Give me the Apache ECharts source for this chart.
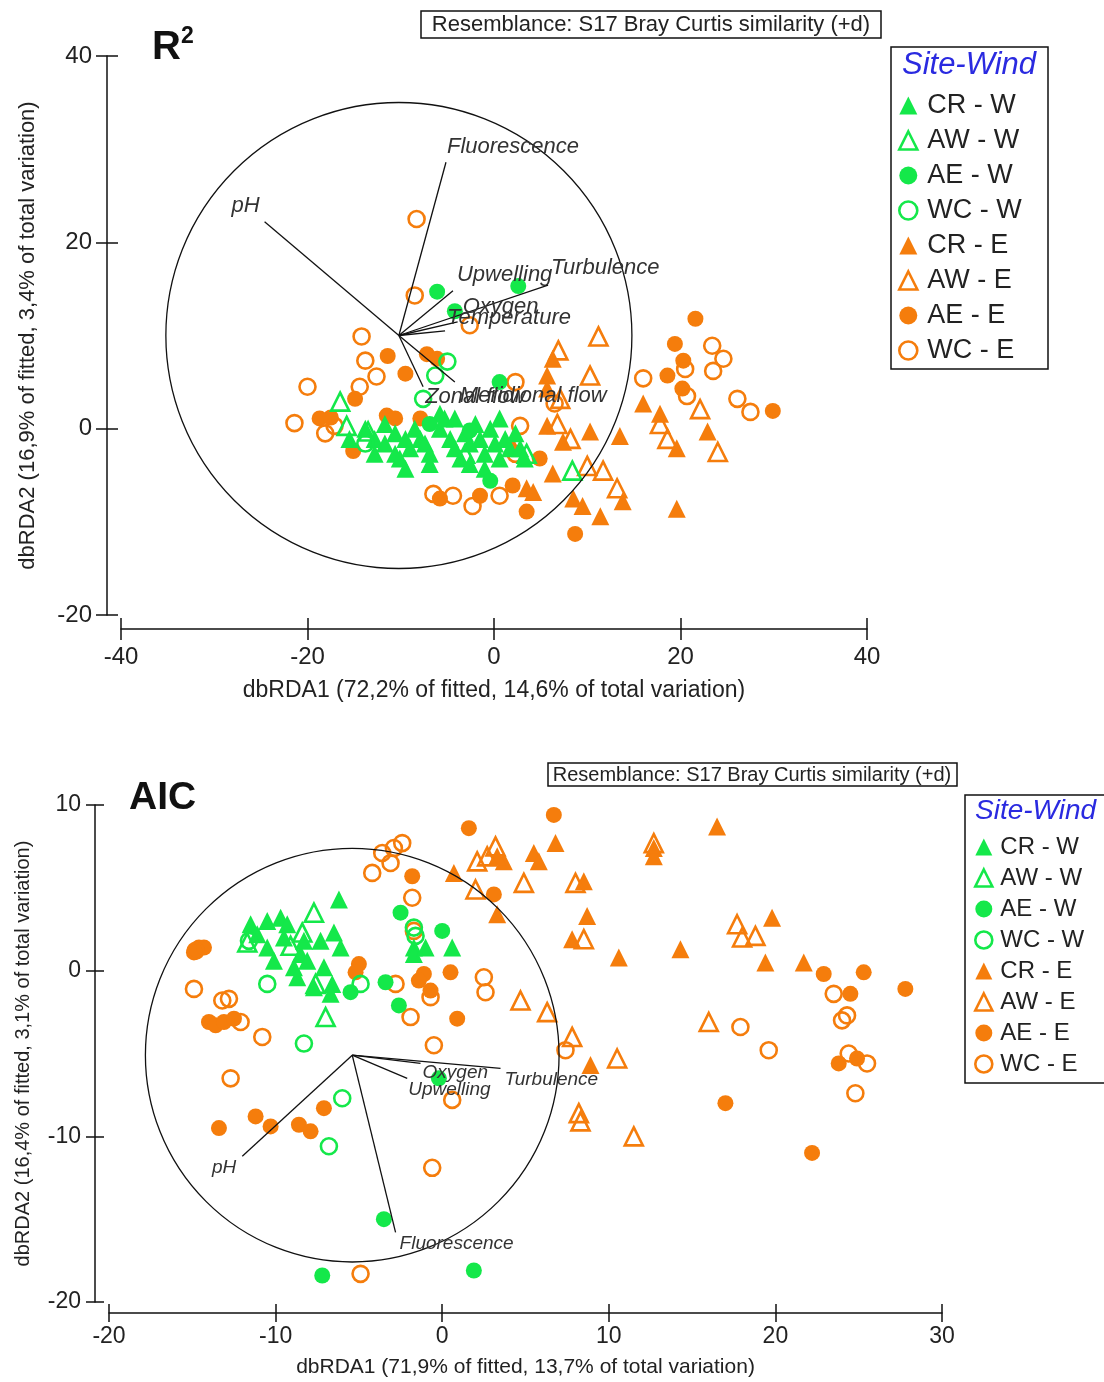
<!DOCTYPE html>
<html>
<head>
<meta charset="utf-8">
<script src="https://cdn.jsdelivr.net/npm/echarts@6/dist/echarts.min.js"></script>
<style>
  html, body { margin: 0; padding: 0; background: #fff; }
  #chart { width: 1104px; height: 1382px; }
</style>
</head>
<body>
<div id="chart"></div>
<script>
// ---------- groups ----------
const groupNames = ['CR - W', 'AW - W', 'AE - W', 'WC - W', 'CR - E', 'AW - E', 'AE - E', 'WC - E'];

// ---------- R2 model: sample scores (dbRDA1, dbRDA2) ----------
const r2CRW = [[-13.8,0],[-12.8,-1.1],[-11.7,-1.6],[-10.6,-2.7],[-9.5,-4.3],[-10.1,-3.2],[-9.0,-2.1],[-7.9,-1.1],[-8.5,0],[-7.4,-1.6],[-6.9,-2.7],[-5.8,0],[-5.3,1.1],[-4.7,-1.1],[-4.2,-2.1],[-3.6,-3.2],[-3.1,-0.5],[-2.6,-1.6],[-2.0,0.5],[-1.5,-1.1],[-1.0,-2.7],[-0.4,0],[0.1,-1.6],[0.6,-3.2],[1.2,-1.1],[1.7,-2.1],[2.3,-0.5],[2.8,-2.1],[3.3,-3.2],[-10.6,-0.5],[-11.7,0.5],[-6.9,-3.8],[-2.6,-3.8],[-4.2,1.1],[-5.8,1.6],[-9.5,-1.1],[-12.8,-2.7],[0.6,1.1],[-15.5,-1.1],[-1.0,-4.3]];
const r2AWW = [[-16.5,2.9],[-15.8,0.3],[-13.5,-0.3],[3.5,-2.7],[8.4,-4.5],[-3.1,-2.7]];
const r2AEW = [[-6.1,14.7],[2.6,15.3],[0.6,5.0],[-0.4,-5.6],[-4.2,12.6],[-2.6,-0.2],[-6.9,0.5]];
const r2WCW = [[-5.0,7.2],[-6.3,5.7],[-7.6,3.2],[-13.8,-1.6]];
const r2CRE = [[6.3,7.5],[5.7,5.7],[5.7,0.3],[7.4,-1.4],[10.3,-0.3],[13.5,-0.8],[16.0,2.7],[17.8,1.6],[22.9,-0.3],[19.6,-2.1],[19.6,-8.6],[11.4,-9.4],[8.5,-7.5],[13.8,-7.8],[9.5,-8.3],[3.5,-6.4],[4.2,-6.8],[2.0,-1.8],[5.7,4.3],[6.3,-4.8]];
const r2AWE = [[11.2,9.9],[6.9,8.4],[10.3,5.7],[7.1,3.2],[22.1,2.1],[6.8,0.5],[8.2,-1.1],[17.8,0.5],[18.6,-1.1],[24.0,-2.5],[10.0,-4.0],[11.7,-4.5],[13.2,-6.4]];
const r2AEE = [[-11.4,7.8],[-9.5,5.9],[-7.2,8.0],[-6.1,7.5],[-14.9,3.2],[-18.7,1.1],[-11.5,1.4],[-10.6,1.1],[-15.1,-2.4],[21.6,11.8],[19.4,9.1],[20.3,7.3],[18.6,5.7],[20.2,4.3],[29.9,1.9],[8.7,-11.3],[2.0,-6.1],[3.5,-8.9],[-1.5,-7.2],[-5.8,-7.5],[-7.9,1.1],[4.9,-3.2],[-17.5,1.2]];
const r2WCE = [[-8.3,22.5],[-8.5,14.3],[-14.2,9.9],[-13.8,7.3],[-12.6,5.6],[-14.4,4.5],[-20.0,4.5],[-21.4,0.6],[-18.1,-0.5],[-17.1,0.3],[-2.6,11.1],[2.3,5.0],[6.5,2.7],[16.0,5.4],[23.4,8.9],[24.6,7.5],[23.5,6.2],[20.5,6.4],[20.7,3.5],[26.1,3.2],[27.5,1.8],[-4.4,-7.2],[-2.3,-8.3],[0.6,-7.2],[2.3,-2.7],[2.8,0.3],[-6.5,-7.0]];

// R2 model: predictor vectors and correlation circle
const r2VecNames = ['pH', 'Fluorescence', 'Upwelling', 'Turbulence', 'Oxygen', 'Temperature', 'Zonal flow', 'Meridional flow'];
const r2VecX = [-24.6, -5.15, -4.4, 5.8, -3.9, -5.25, -7.6, -4.2];
const r2VecY = [22.2, 28.6, 14.8, 15.4, 11.45, 10.5, 4.5, 5.0];
const r2Circle = [-10.2, 10.0, 25.0];   // centre x, centre y, radius

// ---------- AIC model: sample scores ----------
const aicCRW = [[-6.2,4.3],[-9.7,3.2],[-10.5,3.0],[-9.3,2.8],[-7.3,1.8],[-6.5,2.3],[-6.1,1.4],[-8.5,1.0],[-8.1,0.6],[-8.9,0.2],[-7.1,0.2],[-7.7,-1.0],[-6.6,-0.8],[-6.7,-1.4],[-11.1,2.2],[-10.5,1.4],[-1.7,1.4],[-1.7,1.0],[0.6,1.4],[-8.3,1.8],[-9.5,2.0],[-10.1,0.6],[-11.5,2.8],[-8.7,-0.4],[-1.0,1.4]];
const aicAWW = [[-7.7,3.5],[-8.4,2.3],[-7.0,-2.8],[-7.6,-0.8],[-11.7,1.7],[-9.1,1.5]];
const aicAEW = [[-2.5,3.5],[0.0,2.4],[-3.4,-0.7],[-2.6,-2.1],[-5.5,-1.3],[-0.2,-6.5],[-3.5,-15.0],[-7.2,-18.4],[1.9,-18.1]];
const aicWCW = [[-1.7,2.6],[-1.6,2.1],[-10.5,-0.8],[-4.9,-0.8],[-11.6,1.8],[-8.3,-4.4],[-6.0,-7.7],[-6.8,-10.6]];
const aicCRE = [[16.5,8.7],[12.7,7.4],[6.8,7.7],[5.5,7.1],[5.8,6.6],[3.7,6.6],[3.3,6.9],[0.7,5.9],[8.5,5.4],[8.7,3.3],[7.8,1.9],[10.6,0.8],[14.3,1.3],[19.8,3.2],[19.4,0.5],[21.7,0.5],[8.9,-5.7],[3.3,3.4],[12.7,6.9]];
const aicAWE = [[3.2,7.5],[2.1,6.6],[2.7,6.9],[4.9,5.3],[8.0,5.3],[12.7,7.7],[17.7,2.8],[18.0,2.0],[18.8,2.1],[4.7,-1.8],[6.3,-2.5],[7.8,-4.0],[10.5,-5.3],[16.0,-3.1],[8.2,-8.6],[8.3,-9.1],[11.5,-10.0],[2.0,4.9],[8.5,1.9]];
const aicAEE = [[6.7,9.4],[1.6,8.6],[-1.8,5.7],[3.1,4.6],[-5.0,0.4],[-5.2,-0.1],[0.5,-0.1],[0.9,-2.9],[-1.1,-0.2],[-0.7,-1.2],[-1.4,-0.6],[-14.6,1.4],[-14.9,1.1],[-14.3,1.4],[-14.0,-3.1],[-13.6,-3.3],[-13.1,-3.1],[-12.5,-2.9],[-13.4,-9.5],[-11.2,-8.8],[-10.3,-9.4],[-8.6,-9.3],[-7.9,-9.7],[-7.1,-8.3],[22.9,-0.2],[25.3,-0.1],[27.8,-1.1],[24.5,-1.4],[23.8,-5.6],[24.9,-5.3],[17.0,-8.0],[22.2,-11.0]];
const aicWCE = [[-2.4,7.7],[-2.9,7.4],[-3.6,7.1],[-3.1,6.5],[-4.2,5.9],[-1.8,4.4],[-1.7,2.4],[2.5,-0.4],[2.6,-1.3],[-2.8,-0.8],[-0.7,-1.6],[-1.9,-2.8],[-14.9,-1.1],[-13.2,-1.8],[-12.8,-1.7],[-12.1,-3.1],[-10.8,-4.0],[-12.7,-6.5],[-0.5,-4.5],[0.6,-7.8],[-0.6,-11.9],[-4.9,-18.3],[7.4,-4.8],[17.9,-3.4],[19.6,-4.8],[23.5,-1.4],[24.0,-3.0],[24.3,-2.7],[24.4,-5.0],[25.5,-5.6],[24.8,-7.4],[-14.8,1.2]];

// AIC model: predictor vectors and correlation circle
const aicVecNames = ['pH', 'Fluorescence', 'Oxygen', 'Upwelling', 'Turbulence'];
const aicVecX = [-12.0, -2.8, -1.3, -2.1, 3.5];
const aicVecY = [-11.2, -15.8, -5.6, -6.5, -5.9];
const aicCircle = [-5.4, -5.1, 12.45];

// ---------- axis tick values ----------
const r2XTicks = [-40, -20, 0, 20, 40];
const r2YTicks = [-20, 0, 20, 40];
const aicXTicks = [-20, -10, 0, 10, 20, 30];
const aicYTicks = [-20, -10, 0, 10];

const r2XName = 'dbRDA1 (72,2% of fitted, 14,6% of total variation)';
const r2YName = 'dbRDA2 (16,9% of fitted, 3,4% of total variation)';
const aicXName = 'dbRDA1 (71,9% of fitted, 13,7% of total variation)';
const aicYName = 'dbRDA2 (16,4% of fitted, 3,1% of total variation)';
const resemblanceText = 'Resemblance: S17 Bray Curtis similarity (+d)';

// ---------- styling ----------
const FONT = "'Liberation Sans', Arial, Helvetica, sans-serif";
const INK = '#222';
const GREEN = '#14e84a';
const ORANGE = '#f57d0c';
const groupColor = [GREEN, GREEN, GREEN, GREEN, ORANGE, ORANGE, ORANGE, ORANGE];
const groupShape = ['triangle', 'triangle', 'circle', 'circle', 'triangle', 'triangle', 'circle', 'circle'];
const groupFilled = [true, false, true, false, true, false, true, false];
const OPEN_W = 2.6;

// label placement for vector names: [dx px, dy px, align]
const r2LabelPos = {
  'pH': [-5, -16, 'right'], 'Fluorescence': [1, -15, 'left'], 'Upwelling': [4, -16, 'left'],
  'Turbulence': [3, -17, 'left'], 'Oxygen': [5, -15, 'left'], 'Temperature': [2, -13, 'left'],
  'Zonal flow': [2, 10, 'left'], 'Meridional flow': [5, 14, 'left']
};
const aicLabelPos = {
  'pH': [-6, 12, 'right'], 'Fluorescence': [4, 11, 'left'], 'Oxygen': [2, 9, 'left'],
  'Upwelling': [1, 11, 'left'], 'Turbulence': [4, 11, 'left']
};

function itemStyleFor(i) {
  return groupFilled[i]
    ? { color: groupColor[i], opacity: 1 }
    : { color: 'rgba(255,255,255,0)', borderColor: groupColor[i], borderWidth: OPEN_W, opacity: 1 };
}

function valueAxes(gi, min, max, interval, offset, tickLen, labelSize, labelMargin, name, nameSize, nameGap, isX) {
  const line = { color: '#111', width: 1.5 };
  const main = {
    gridIndex: gi, type: 'value', min, max, interval, offset,
    position: isX ? 'bottom' : 'left',
    axisLine: { show: true, onZero: false, lineStyle: line },
    axisTick: { show: true, length: tickLen, lineStyle: line },
    axisLabel: { fontSize: labelSize, color: INK, fontFamily: FONT, margin: labelMargin },
    splitLine: { show: false },
    name, nameLocation: 'middle', nameGap,
    nameTextStyle: { fontSize: nameSize, color: INK, fontFamily: FONT }
  };
  const inner = {
    gridIndex: gi, type: 'value', min, max, interval, offset,
    position: isX ? 'bottom' : 'left',
    axisLine: { show: false, onZero: false },
    axisTick: { show: true, inside: true, length: tickLen, lineStyle: line },
    axisLabel: { show: false },
    splitLine: { show: false }
  };
  return [main, inner];
}

// one scatter series per group, in the given group order
function scatterSeries(datasets, groupIdx, axisIdx, triSize, circSize) {
  return datasets.map((data, k) => {
    const i = groupIdx[k];
    return {
      type: 'scatter', name: groupNames[i],
      xAxisIndex: axisIdx, yAxisIndex: axisIdx,
      data,
      symbol: groupShape[i],
      symbolSize: groupShape[i] === 'triangle' ? triSize : circSize,
      itemStyle: itemStyleFor(i),
      emphasis: { disabled: true },
      z: groupColor[i] === GREEN ? 3 : 2
    };
  });
}

function circleSeries(circle, axisIdx) {
  return {
    type: 'custom', xAxisIndex: axisIdx, yAxisIndex: axisIdx, z: 6, silent: true,
    data: [circle],
    renderItem(params, api) {
      const c = api.coord([api.value(0), api.value(1)]);
      const s = api.size([api.value(2), api.value(2)]);
      return {
        type: 'circle',
        shape: { cx: c[0], cy: c[1], r: (s[0] + s[1]) / 2 },
        style: { fill: 'none', stroke: '#111', lineWidth: 1.3 }
      };
    }
  };
}

function vectorSeries(names, xs, ys, origin, labelPos, fontSize, axisIdx) {
  const data = names.map((n, i) => [origin[0], origin[1], xs[i], ys[i]]);
  return {
    type: 'custom', xAxisIndex: axisIdx, yAxisIndex: axisIdx, z: 7, silent: true,
    data,
    renderItem(params, api) {
      const o = api.coord([api.value(0), api.value(1)]);
      const e = api.coord([api.value(2), api.value(3)]);
      const name = names[params.dataIndex];
      const p = labelPos[name];
      return {
        type: 'group',
        children: [
          { type: 'line', shape: { x1: o[0], y1: o[1], x2: e[0], y2: e[1] },
            style: { stroke: '#111', lineWidth: 1.3 } },
          { type: 'text', x: e[0] + p[0], y: e[1] + p[1],
            style: { text: name, font: 'italic ' + fontSize + 'px ' + FONT, fill: '#333',
                     align: p[2], verticalAlign: 'middle' } }
        ]
      };
    }
  };
}

function legendData() {
  return groupNames.map((n, i) => ({ name: n, icon: groupShape[i], itemStyle: itemStyleFor(i) }));
}

const [r2X, r2Xin] = valueAxes(0, r2XTicks[0], r2XTicks[r2XTicks.length - 1], 20, 14, 11, 24, 16, r2XName, 23, 50, true);
const [r2Y, r2Yin] = valueAxes(0, r2YTicks[0], r2YTicks[r2YTicks.length - 1], 20, 14, 11, 24, 15, r2YName, 22, 68, false);
const [aicX, aicXin] = valueAxes(1, aicXTicks[0], aicXTicks[aicXTicks.length - 1], 10, 11, 9, 23, 12, aicXName, 21, 44, true);
const [aicY, aicYin] = valueAxes(1, aicYTicks[0], aicYTicks[aicYTicks.length - 1], 10, 14, 9, 23, 14, aicYName, 20, 62, false);

const chart = echarts.init(document.getElementById('chart'), null, { renderer: 'canvas' });

// orange groups are drawn first, green groups on top
const eastIdx = [4, 5, 6, 7];
const westIdx = [0, 1, 2, 3];

chart.setOption({
  backgroundColor: '#fff',
  animation: false,
  textStyle: { fontFamily: FONT },
  grid: [
    { left: 121, width: 746, top: 56, height: 559 },
    { left: 109, width: 833, top: 805, height: 497 }
  ],
  xAxis: [r2X, r2Xin, aicX, aicXin],
  yAxis: [r2Y, r2Yin, aicY, aicYin],
  legend: [
    {
      data: legendData(), orient: 'vertical', left: 898, top: 92, padding: 0,
      itemWidth: 18, itemHeight: 18, itemGap: 8, selectedMode: false,
      textStyle: { fontSize: 27, lineHeight: 27, color: INK, fontFamily: FONT, padding: [0, 0, 0, 5] }
    },
    {
      data: legendData(), orient: 'vertical', left: 974, top: 835, padding: 0,
      itemWidth: 17, itemHeight: 17, itemGap: 7, selectedMode: false,
      textStyle: { fontSize: 24, lineHeight: 24, color: INK, fontFamily: FONT, padding: [0, 0, 0, 3] }
    }
  ],
  series: [
    ...scatterSeries([r2CRE, r2AWE, r2AEE, r2WCE], eastIdx, 0, 18, 16),
    ...scatterSeries([r2CRW, r2AWW, r2AEW, r2WCW], westIdx, 0, 18, 16),
    circleSeries(r2Circle, 0),
    vectorSeries(r2VecNames, r2VecX, r2VecY, r2Circle, r2LabelPos, 22, 0),
    ...scatterSeries([aicCRE, aicAWE, aicAEE, aicWCE], eastIdx, 2, 18, 16),
    ...scatterSeries([aicCRW, aicAWW, aicAEW, aicWCW], westIdx, 2, 18, 16),
    circleSeries(aicCircle, 2),
    vectorSeries(aicVecNames, aicVecX, aicVecY, aicCircle, aicLabelPos, 19, 2)
  ],
  graphic: [
    // panel titles
    { type: 'text', left: 152, top: 28, style: { text: 'R', font: 'bold 40px ' + FONT, fill: '#111' } },
    { type: 'text', left: 181, top: 25, style: { text: '2', font: 'bold 23px ' + FONT, fill: '#111' } },
    { type: 'text', left: 129, top: 779, style: { text: 'AIC', font: 'bold 39px ' + FONT, fill: '#111' } },
    // resemblance captions
    { type: 'rect', shape: { x: 421, y: 11, width: 460, height: 27 },
      style: { fill: '#fff', stroke: '#111', lineWidth: 1.5 } },
    { type: 'text', x: 651, y: 25, style: { text: resemblanceText, font: '22px ' + FONT, fill: INK,
      align: 'center', verticalAlign: 'middle' } },
    { type: 'rect', shape: { x: 548, y: 763, width: 409, height: 23 },
      style: { fill: '#fff', stroke: '#111', lineWidth: 1.5 } },
    { type: 'text', x: 752, y: 775, style: { text: resemblanceText, font: '20px ' + FONT, fill: INK,
      align: 'center', verticalAlign: 'middle' } },
    // legend frames and headings
    { type: 'rect', z: -1, shape: { x: 891, y: 47, width: 157, height: 322 },
      style: { fill: '#fff', stroke: '#111', lineWidth: 1.5 } },
    { type: 'text', x: 969, y: 65, style: { text: 'Site-Wind', font: 'italic 31px ' + FONT, fill: '#2a2ae0',
      align: 'center', verticalAlign: 'middle' } },
    { type: 'rect', z: -1, shape: { x: 965, y: 795, width: 160, height: 288 },
      style: { fill: '#fff', stroke: '#111', lineWidth: 1.5 } },
    { type: 'text', x: 975, y: 811, style: { text: 'Site-Wind', font: 'italic 28px ' + FONT, fill: '#2a2ae0',
      align: 'left', verticalAlign: 'middle' } }
  ]
});
</script>
</body>
</html>
